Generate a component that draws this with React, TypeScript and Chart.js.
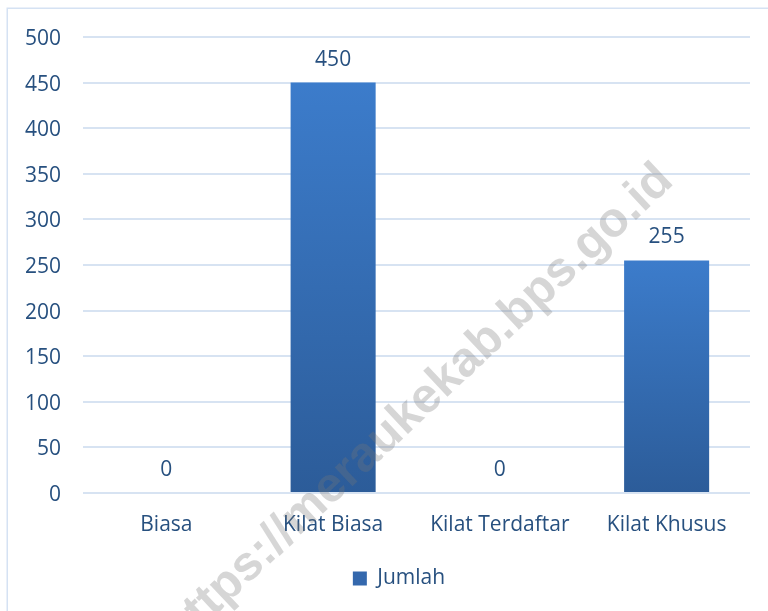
import React, { useEffect, useRef } from "react";
import { Chart, registerables } from "chart.js";

Chart.register(...registerables);

const categories = ["Biasa", "Kilat Biasa", "Kilat Terdaftar", "Kilat Khusus"];
const jumlah = [0, 450, 0, 255];
const seriesName = "Jumlah";
const yMin = 0;
const yMax = 500;
const yStep = 50;
const watermarkText = "https://meraukekab.bps.go.id";

const FONT = '"Open Sans", "Noto Sans", sans-serif';
const TEXT = "#27507f";
const GRID = "#d7e3f2";

const framePlugin = {
  id: "frame",
  afterLayout(chart: any) {
    if (chart.legend) {
      chart.legend.left += 24;
      chart.legend.right += 24;
    }
  },
  beforeDraw(chart: any) {
    const c = chart.ctx;
    c.save();
    c.fillStyle = "#ffffff";
    c.fillRect(0, 0, chart.width, chart.height);
    c.strokeStyle = "#d5e2f3";
    c.lineWidth = 1.5;
    c.strokeRect(7.25, 8.25, chart.width + 40, chart.height + 40);
    c.restore();
  },
};

const labelPlugin = {
  id: "valueLabels",
  afterDatasetsDraw(chart: any) {
    const c = chart.ctx;
    const meta = chart.getDatasetMeta(0);
    c.save();
    c.font = `21px ${FONT}`;
    c.fillStyle = TEXT;
    c.textAlign = "center";
    c.textBaseline = "middle";
    meta.data.forEach((el: any, i: number) => {
      c.fillText(String(jumlah[i]), el.x, el.y - 23);
    });
    c.restore();
  },
};

const watermarkPlugin = {
  id: "watermark",
  afterDraw(chart: any) {
    const c = chart.ctx;
    c.save();
    c.translate(418, 406);
    c.rotate((-43.2 * Math.PI) / 180);
    let size = 46;
    c.font = `bold ${size}px "Liberation Sans", sans-serif`;
    const w = c.measureText(watermarkText).width;
    size = (size * 680) / w;
    c.font = `bold ${size}px "Liberation Sans", sans-serif`;
    c.fillStyle = "rgba(120,120,120,0.3)";
    c.textAlign = "center";
    c.textBaseline = "middle";
    c.fillText(watermarkText, 0, 0);
    c.restore();
  },
};

export default function App() {
  const ref = useRef<HTMLCanvasElement | null>(null);

  useEffect(() => {
    if (!ref.current) return;
    const chart = new Chart(ref.current, {
      type: "bar",
      data: {
        labels: categories,
        datasets: [
          {
            label: seriesName,
            data: jumlah,
            backgroundColor: (ctx: any) => {
              const ch = ctx.chart;
              const ys = ch.scales && ch.scales.y;
              if (!ys || ctx.type !== "data") return "#3468ad";
              const top = ys.getPixelForValue(ctx.raw);
              const bottom = ys.getPixelForValue(0);
              if (!(bottom - top > 1)) return "#3468ad";
              const g = ch.ctx.createLinearGradient(0, top, 0, bottom);
              g.addColorStop(0, "#3c7ccb");
              g.addColorStop(1, "#2c5c99");
              return g;
            },
            borderWidth: 0,
            barPercentage: 0.51,
            categoryPercentage: 1,
          },
        ],
      },
      options: {
        animation: false,
        responsive: false,
        maintainAspectRatio: false,
        layout: { padding: { top: 37, right: 18, left: 0, bottom: 12 } },
        plugins: {
          tooltip: { enabled: false },
          legend: {
            position: "bottom",
            labels: {
              font: { family: FONT, size: 21 },
              color: TEXT,
              boxWidth: 14,
              boxHeight: 14,
              padding: 10,
            },
          },
        },
        scales: {
          x: {
            grid: { display: false, drawTicks: false },
            border: { display: false },
            ticks: { font: { family: FONT, size: 21 }, color: TEXT, padding: 19 },
            afterFit: (scale: any) => {
              const lh = scale.chart.legend ? scale.chart.legend.height : 0;
              scale.height = scale.chart.height - 493 - lh - 12;
            },
          },
          y: {
            min: yMin,
            max: yMax,
            ticks: {
              stepSize: yStep,
              font: { family: FONT, size: 21 },
              color: TEXT,
              padding: 22,
              labelOffset: 2,
            },
            grid: { color: GRID, lineWidth: 2, drawTicks: false },
            border: { display: false },
            afterFit: (scale: any) => {
              scale.width = 83;
            },
          },
        },
      },
      plugins: [framePlugin, labelPlugin, watermarkPlugin],
    });
    return () => chart.destroy();
  }, []);

  return (
    <div style={{ position: "fixed", left: 0, top: 0, width: 768, height: 611 }}>
      <canvas ref={ref} width={768} height={611} style={{ display: "block" }} />
    </div>
  );
}
